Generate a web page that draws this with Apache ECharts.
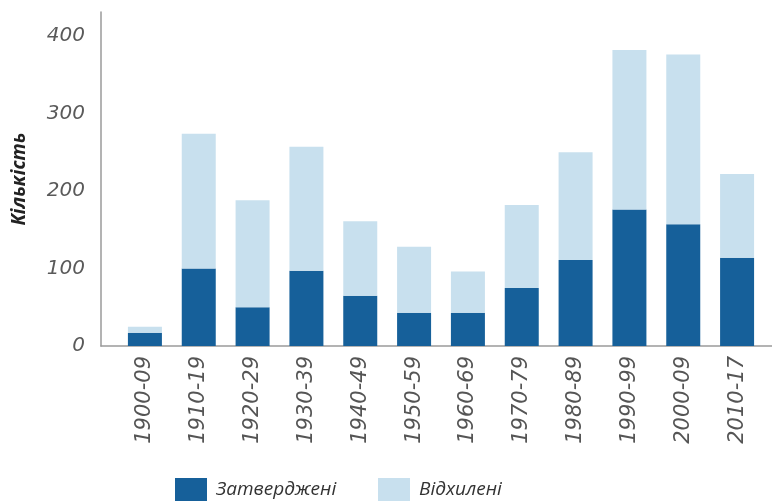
<!DOCTYPE html>
<html>
<head>
<meta charset="utf-8">
<script src="https://cdn.jsdelivr.net/npm/echarts@6/dist/echarts.min.js"></script>
<style>html,body{margin:0;padding:0;background:#fff}#c{width:772px;height:501px}</style>
</head>
<body>
<div id="c"></div>
<script>
const categories = ['1900-09','1910-19','1920-29','1930-39','1940-49','1950-59','1960-69','1970-79','1980-89','1990-99','2000-09','2010-17'];
const approved = [17, 100, 50, 97, 65, 43, 43, 75, 111, 176, 157, 114];
const rejected = [8, 174, 138, 160, 96, 85, 53, 107, 139, 206, 219, 108];
const yTicks = [0, 100, 200, 300, 400];
const seriesNames = ['Затверджені', 'Відхилені'];
const colors = ['#16609a', '#c8e0ee'];
const yAxisTitle = 'Кількість';

const NUMFONT = '"DejaVu Sans"';
const TXTFONT = '"Open Sans"';
const chart = echarts.init(document.getElementById('c'));
const yMax = 431;
chart.setOption({
  animation: false,
  backgroundColor: '#fff',
  grid: [
    {left: 101, right: 0, top: 12, bottom: 155},
    {left: 118, width: 646, top: 12, bottom: 155}
  ],
  xAxis: [
    {gridIndex: 0, type: 'value', min: 0, max: 1, axisLine: {show: true, onZero: false, lineStyle: {color: '#9a9a9a', width: 1.5}},
     axisTick: {show: false}, axisLabel: {show: false}, splitLine: {show: false}},
    {gridIndex: 1, type: 'category', data: categories, axisLine: {show: false}, axisTick: {show: false},
     axisLabel: {rotate: 90, margin: 10, fontFamily: NUMFONT, fontStyle: 'italic', fontSize: 21, color: '#555', interval: 0}}
  ],
  yAxis: [
    {gridIndex: 0, type: 'value', min: 0, max: yMax, interval: 100,
     axisLine: {show: true, lineStyle: {color: '#9a9a9a', width: 1.5}}, axisTick: {show: false}, splitLine: {show: false},
     axisLabel: {margin: 16, fontFamily: NUMFONT, fontStyle: 'italic', fontSize: 20, color: '#5a5a5a',
       formatter: v => yTicks.includes(v) ? String(v) : ''},
     name: yAxisTitle, nameLocation: 'middle', nameGap: 72, nameRotate: 90,
     nameTextStyle: {fontFamily: TXTFONT, fontStyle: 'italic', fontWeight: 'bold', fontSize: 19, color: '#222'}},
    {gridIndex: 1, type: 'value', min: 0, max: yMax, show: false}
  ],
  legend: [
    {data: [seriesNames[0]], icon: 'rect', left: 170, top: 473, itemWidth: 32, itemHeight: 24, itemGap: 10,
     textStyle: {fontFamily: TXTFONT, fontStyle: 'italic', fontSize: 19, color: '#333', padding: [0,0,0,4]}},
    {data: [seriesNames[1]], icon: 'rect', left: 373, top: 473, itemWidth: 32, itemHeight: 24, itemGap: 10,
     textStyle: {fontFamily: TXTFONT, fontStyle: 'italic', fontSize: 19, color: '#333', padding: [0,0,0,4]}}
  ],
  series: [
    {name: seriesNames[0], type: 'bar', xAxisIndex: 1, yAxisIndex: 1, stack: 's', data: approved, barWidth: 34, itemStyle: {color: colors[0]}},
    {name: seriesNames[1], type: 'bar', xAxisIndex: 1, yAxisIndex: 1, stack: 's', data: rejected, barWidth: 34, itemStyle: {color: colors[1]}}
  ]
});
</script>
</body>
</html>
